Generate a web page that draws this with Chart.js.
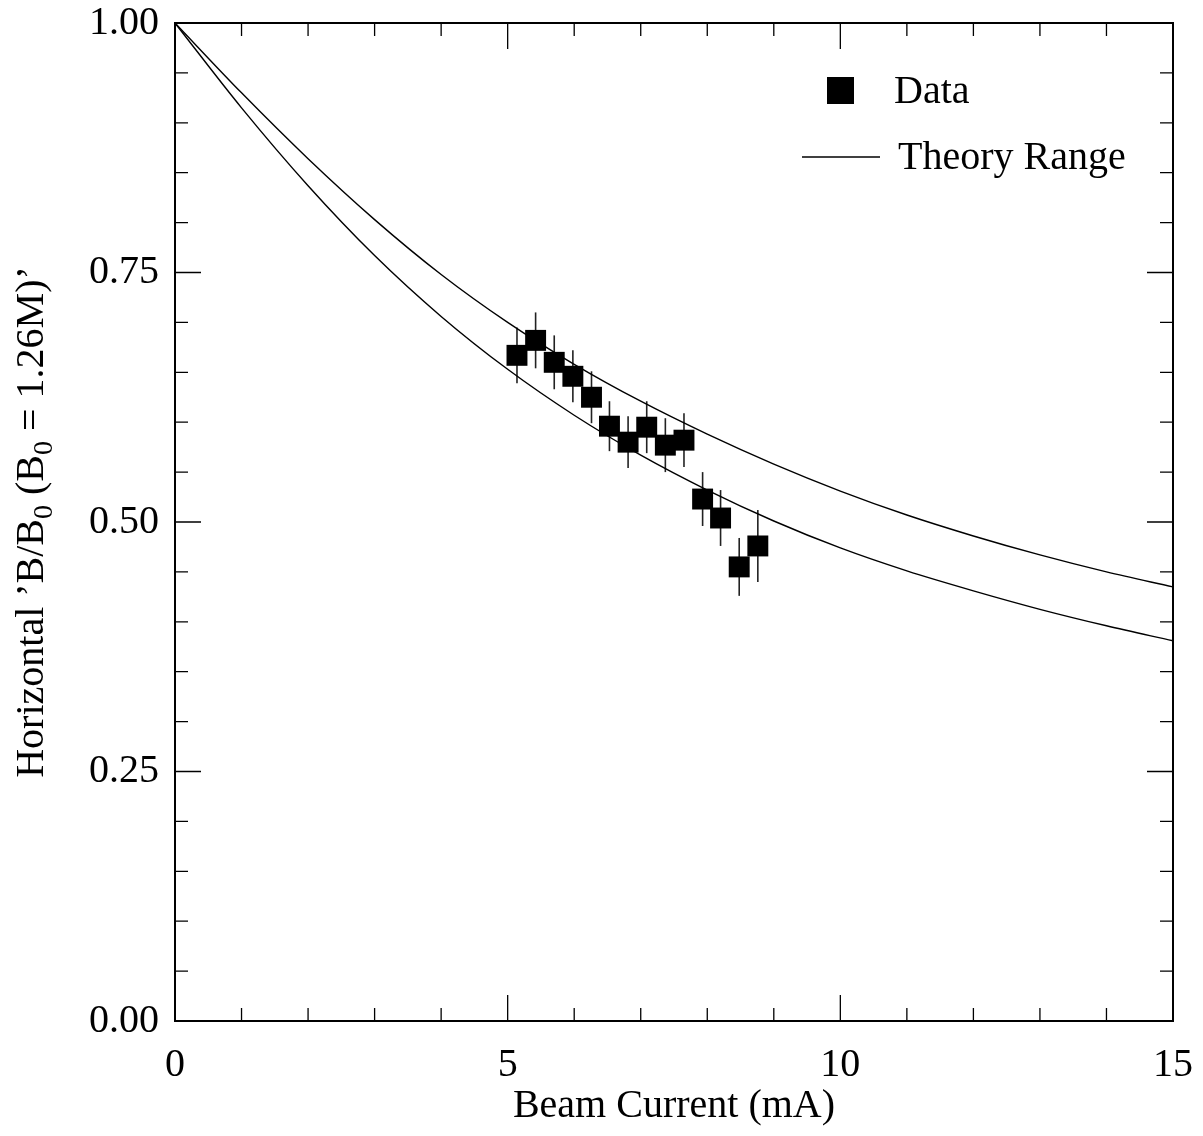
<!DOCTYPE html>
<html>
<head>
<meta charset="utf-8">
<script src="https://cdn.jsdelivr.net/npm/chart.js@4.4.0/dist/chart.umd.min.js"></script>
<style>
  body { margin: 0; background: #fff; }
  #wrap { width: 1203px; height: 1136px; }
</style>
</head>
<body>
<div id="wrap"><canvas id="chart" width="1203" height="1136"></canvas></div>
<script>
const SERIF = '"Liberation Serif", "Times New Roman", serif'

// Measured points (beam current in mA, ratio, error half-length)
const current  = [5.14, 5.42, 5.70, 5.98, 6.26, 6.53, 6.81, 7.09, 7.37, 7.65, 7.93, 8.20, 8.48, 8.76]
const ratio    = [0.667, 0.682, 0.660, 0.646, 0.625, 0.596, 0.580, 0.595, 0.577, 0.582, 0.523, 0.504, 0.455, 0.476]
const ratioErr = [0.028, 0.028, 0.027, 0.026, 0.026, 0.025, 0.026, 0.026, 0.027, 0.027, 0.027, 0.028, 0.029, 0.036]

// Theory range
const theoryCurrent = [0, 1, 2, 3, 4, 5, 6, 7, 8, 9, 10, 11, 12, 13, 14, 15]
const theoryUpper   = [1.000, 0.930, 0.864, 0.803, 0.748, 0.700, 0.658, 0.621, 0.588, 0.558, 0.531, 0.507, 0.486, 0.467, 0.450, 0.435]
const theoryLower   = [1.000, 0.915, 0.837, 0.767, 0.706, 0.653, 0.607, 0.567, 0.532, 0.501, 0.474, 0.451, 0.431, 0.4125, 0.396, 0.381]

const xTicks = [0, 5, 10, 15]
const yTicks = [0, 0.25, 0.5, 0.75, 1]

const pts = (xs, ys) => xs.map((x, i) => ({ x: x, y: ys[i] }))

const framePlugin = {
  id: 'frame',
  beforeDatasetsDraw(chart) {
    const { ctx, scales: { x, y } } = chart
    ctx.save()
    ctx.strokeStyle = '#222'
    ctx.lineWidth = 1.6
    current.forEach((c, i) => {
      const px = x.getPixelForValue(c)
      ctx.beginPath()
      ctx.moveTo(px, y.getPixelForValue(ratio[i] - ratioErr[i]))
      ctx.lineTo(px, y.getPixelForValue(ratio[i] + ratioErr[i]))
      ctx.stroke()
    })
    ctx.restore()
  },
  afterDraw(chart) {
    const { ctx, chartArea: a, scales: { x, y } } = chart
    ctx.save()
    ctx.strokeStyle = '#000'
    ctx.lineWidth = 1.3
    // inward ticks on all four sides
    for (let v = 0; v <= 15; v++) {
      const px = x.getPixelForValue(v)
      const len = v % 5 === 0 ? 26 : 13
      ctx.beginPath()
      ctx.moveTo(px, a.bottom); ctx.lineTo(px, a.bottom - len)
      ctx.moveTo(px, a.top); ctx.lineTo(px, a.top + len)
      ctx.stroke()
    }
    for (let i = 0; i <= 20; i++) {
      const py = y.getPixelForValue(i * 0.05)
      const len = i % 5 === 0 ? 26 : 13
      ctx.beginPath()
      ctx.moveTo(a.left, py); ctx.lineTo(a.left + len, py)
      ctx.moveTo(a.right, py); ctx.lineTo(a.right - len, py)
      ctx.stroke()
    }
    ctx.lineWidth = 2
    ctx.strokeRect(a.left, a.top, a.right - a.left, a.bottom - a.top)

    // axis titles
    ctx.fillStyle = '#000'
    ctx.font = '40px ' + SERIF
    ctx.textAlign = 'center'
    ctx.textBaseline = 'alphabetic'
    ctx.fillText('Beam Current (mA)', (a.left + a.right) / 2, 1117)

    const parts = [
      ['Horizontal \u2019B/B', false], ['0', true], [' (B', false], ['0', true], [' = 1.26M)\u2019', false]
    ]
    const fontOf = sub => (sub ? '28px ' : '40px ') + SERIF
    let total = 0
    parts.forEach(p => { ctx.font = fontOf(p[1]); total += ctx.measureText(p[0]).width })
    ctx.translate(43, (a.top + a.bottom) / 2)
    ctx.rotate(-Math.PI / 2)
    ctx.textAlign = 'left'
    let cx = -total / 2
    parts.forEach(p => {
      ctx.font = fontOf(p[1])
      ctx.fillText(p[0], cx, p[1] ? 9 : 0)
      cx += ctx.measureText(p[0]).width
    })
    ctx.setTransform(1, 0, 0, 1, 0, 0)

    // legend
    ctx.font = '40px ' + SERIF
    ctx.textBaseline = 'middle'
    ctx.fillRect(827, 77, 27, 27)
    ctx.fillText(chart.data.datasets[0].label, 894, 92)
    ctx.lineWidth = 1.4
    ctx.beginPath()
    ctx.moveTo(802, 157); ctx.lineTo(880, 157)
    ctx.stroke()
    ctx.fillText(chart.data.datasets[1].label, 898, 158)
    ctx.restore()
  }
}

Chart.defaults.color = '#000'
Chart.defaults.font.family = SERIF

new Chart(document.getElementById('chart'), {
  type: 'scatter',
  data: {
    datasets: [
      {
        label: 'Data',
        data: pts(current, ratio),
        pointStyle: 'rect',
        pointRadius: 14.8,
        backgroundColor: '#000',
        borderWidth: 0,
        showLine: false
      },
      {
        label: 'Theory Range',
        data: pts(theoryCurrent, theoryUpper),
        showLine: true,
        pointRadius: 0,
        borderColor: '#000',
        borderWidth: 1.4,
        cubicInterpolationMode: 'monotone'
      },
      {
        label: 'Theory Range (low)',
        data: pts(theoryCurrent, theoryLower),
        showLine: true,
        pointRadius: 0,
        borderColor: '#000',
        borderWidth: 1.4,
        cubicInterpolationMode: 'monotone'
      }
    ]
  },
  options: {
    responsive: false,
    animation: false,
    layout: { padding: { top: 23, right: 30, left: 0, bottom: 0 } },
    plugins: { legend: { display: false }, tooltip: { enabled: false } },
    scales: {
      x: {
        type: 'linear', min: 0, max: 15,
        afterBuildTicks: s => { s.ticks = xTicks.map(v => ({ value: v })) },
        ticks: { font: { size: 40 }, padding: 20, maxRotation: 0 },
        grid: { display: false, drawTicks: false },
        border: { display: false },
        afterFit: s => { s.height = 115; s.paddingLeft = 0; s.paddingRight = 0 }
      },
      y: {
        type: 'linear', min: 0, max: 1,
        afterBuildTicks: s => { s.ticks = yTicks.map(v => ({ value: v })) },
        ticks: { font: { size: 40 }, padding: 16, callback: v => v.toFixed(2) },
        grid: { display: false, drawTicks: false },
        border: { display: false },
        afterFit: s => { s.width = 175; s.paddingTop = 0; s.paddingBottom = 0 }
      }
    }
  },
  plugins: [framePlugin]
})
</script>
</body>
</html>
